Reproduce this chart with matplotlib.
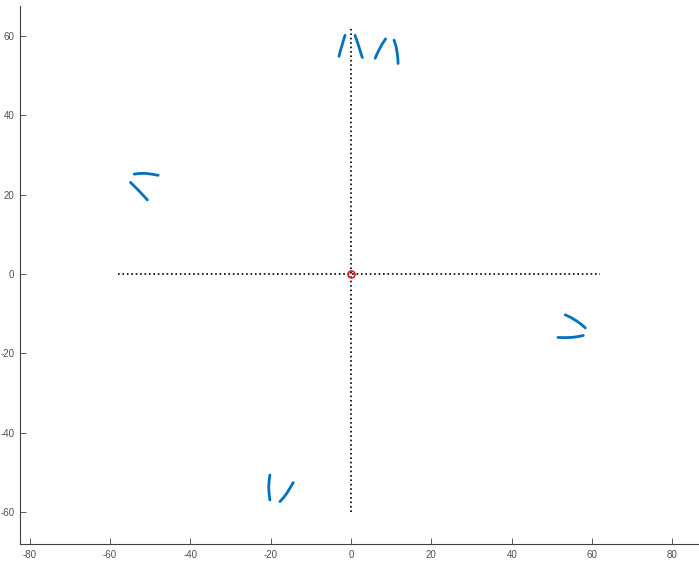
import matplotlib
matplotlib.use("Agg")
import matplotlib.pyplot as plt

plt.rcParams['axes.unicode_minus'] = False

# arc segments, each as (x points, y points)
arcs = [
    ([-3.0, -2.7, -2.3, -1.9, -1.5], [54.9, 56.2, 57.5, 58.9, 60.2]),
    ([1.0, 1.4, 1.8, 2.3, 2.8], [60.2, 59.0, 57.8, 56.2, 54.6]),
    ([6.0, 6.5, 7.1, 7.8, 8.6], [54.4, 55.6, 56.8, 58.1, 59.3]),
    ([10.7, 11.2, 11.5, 11.65, 11.7], [59.0, 57.4, 55.6, 54.3, 53.1]),
    ([-54.0, -52.7, -51.3, -49.7, -48.0], [25.2, 25.35, 25.4, 25.2, 24.9]),
    ([-54.9, -53.9, -52.8, -51.8, -50.7], [23.1, 22.1, 21.0, 19.9, 18.7]),
    ([53.3, 54.6, 55.9, 57.2, 58.3], [-10.3, -10.9, -11.7, -12.6, -13.6]),
    ([51.5, 53.2, 54.8, 56.4, 57.8], [-16.0, -16.05, -16.0, -15.8, -15.5]),
    ([-20.2, -20.4, -20.5, -20.4, -20.2], [-50.7, -52.2, -53.8, -55.4, -57.0]),
    ([-17.7, -16.8, -16.0, -15.2, -14.4], [-57.4, -56.4, -55.3, -54.0, -52.6]),
]

hline_x = [-58, 62]
vline_y = [-60, 62]
xticks = [-80, -60, -40, -20, 0, 20, 40, 60, 80]
yticks = [-60, -40, -20, 0, 20, 40, 60]

fig = plt.figure(figsize=(6.99, 5.61), dpi=100)
ax = fig.add_axes([20 / 699, 17 / 561, 679 / 699, 538 / 561])

ax.plot(hline_x, [0, 0], ':', color='black', lw=1.2)
ax.plot([0, 0], vline_y, ':', color='black', lw=1.2)
for xs, ys in arcs:
    ax.plot(xs, ys, '-', color='#0072BD', lw=2.0, solid_capstyle='round')
ax.plot([0], [0], 'o', mfc='none', mec='#D62020', ms=5, mew=1.2)

ax.set_xlim(-82.4, 86.6)
ax.set_ylim(-68.1, 67.6)
ax.set_xticks(xticks)
ax.set_yticks(yticks)
ax.spines['top'].set_visible(False)
ax.spines['right'].set_visible(False)
for s in ('left', 'bottom'):
    ax.spines[s].set_color('#404040')
    ax.spines[s].set_linewidth(0.8)
ax.tick_params(direction='in', length=4, width=0.6, color='#404040',
               labelsize=7, labelcolor='#505050', pad=4)
for lab in ax.get_xticklabels() + ax.get_yticklabels():
    lab.set_family('Liberation Sans')

fig.savefig('out.png', dpi=100)
